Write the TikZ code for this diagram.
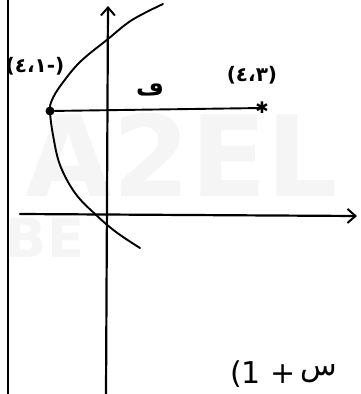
\documentclass[tikz,border=0pt]{standalone}
\usepackage{fontspec}
\setmainfont{DejaVu Sans}
\newfontfamily\arabicfont{DejaVu Sans}
\usetikzlibrary{arrows.meta}
\begin{document}
\begin{tikzpicture}[x=1pt,y=-1pt,
  ink/.style={line width=2.2pt,line cap=round,black},
  axis/.style={ink,-{Straight Barb[length=8pt,width=14pt,line width=2pt]}},
  lbl/.style={font=\arabicfont\bfseries\fontsize{20}{20}\selectfont,inner sep=0pt},
  big/.style={font=\arabicfont\fontsize{30}{30}\selectfont,inner sep=0pt},
  wm/.style={font=\bfseries\fontsize{112}{112}\selectfont,text=gray!8,inner sep=0pt}]
\useasboundingbox (0,0) rectangle (361,394);
% watermark
\node[wm] (wmA) at (182,155) {A2EL};
\node[wm,font=\bfseries\fontsize{54}{54}\selectfont] (wmB) at (45,238) {BE};
% left border line
\coordinate (lt) at (8,0);
\coordinate (lb) at (8,394);
\draw[ink] (lt) -- (lb);
% axes
\coordinate (ybot) at (106,394);
\coordinate (ytop) at (108,6);
\coordinate (xl) at (20,214);
\coordinate (xr) at (357,216);
\draw[axis] (ybot) -- (ytop);
\draw[axis] (xl) -- (xr);
% parabola
\draw[ink,line width=1.9pt] plot[smooth,tension=0.6] coordinates {(163,4) (132,20) (108,39) (80,62) (61,85) (52,100) (50,111) (53,135) (60,165) (75,193) (95,214) (116,232) (140,248)};
% vertex and focus
\node[circle,fill=black,inner sep=0pt,minimum size=9pt] (v) at (50,111) {};
\node[inner sep=0pt,font=\bfseries\fontsize{16}{16}\selectfont] (f) at (262,108) {✱};
\draw[ink,line width=1.9pt] (v) -- (f.center);
% labels
\node[lbl] (lv) at (35,66) {(٤،١-)};
\node[lbl] (lf) at (252,75) {(٤،٣)};
\node[lbl,font=\arabicfont\bfseries\fontsize{24}{24}\selectfont] (lp) at (150,90) {ڡ};
\node[big,anchor=west] (eqa) at (230,374) {(1 +};
\node[big,anchor=west] (eqb) at (eqa.east) {\hspace{4pt}س};
\end{tikzpicture}
\end{document}
